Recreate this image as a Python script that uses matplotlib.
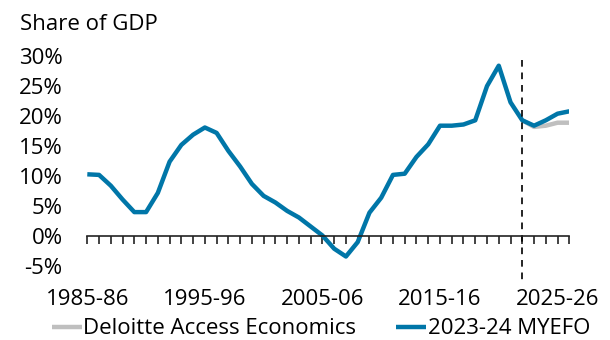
import numpy as np
import matplotlib
matplotlib.use("Agg")
import matplotlib.pyplot as plt
from matplotlib.ticker import MultipleLocator, FuncFormatter

# Financial years 1985-86 .. 2026-27
years = [f"{y}-{str(y + 1)[-2:]}" for y in range(1985, 2027)]

# 2023-24 MYEFO, share of GDP (%)
myefo = [10.2, 10.1, 8.3, 6.0, 3.9, 3.9, 7.1, 12.3, 15.1, 16.8,
         18.0, 17.1, 14.1, 11.5, 8.6, 6.6, 5.5, 4.1, 3.0, 1.5,
         0.0, -2.2, -3.5, -1.1, 3.8, 6.3, 10.1, 10.3, 13.1, 15.2,
         18.3, 18.3, 18.5, 19.2, 24.9, 28.3, 22.2, 19.2, 18.3, 19.2,
         20.3, 20.7]

# Deloitte Access Economics forecast (from 2022-23)
dae_years = ["2022-23", "2023-24", "2024-25", "2025-26", "2026-27"]
dae = [19.2, 18.1, 18.3, 18.8, 18.8]

last_actual = "2022-23"

plt.rcParams['font.family'] = ['Open Sans', 'DejaVu Sans']
plt.rcParams['font.size'] = 16

blue = '#0076A8'
grey = '#BFBFBF'

x = np.arange(len(years))
dae_x = [years.index(y) for y in dae_years]

fig = plt.figure(figsize=(6.1, 3.4), dpi=100)
ax = fig.add_axes([87.3 / 610, 1 - 280.5 / 340, (569.3 - 87.3) / 610, 228 / 340])

ax.plot(dae_x, dae, color=grey, lw=3.2, solid_capstyle='butt', label='Deloitte Access Economics')
ax.plot(x, myefo, color=blue, lw=3.2, solid_capstyle='butt', label='2023-24 MYEFO')

xd = years.index(last_actual)
ax.plot([xd, xd], [29.3, -7.5], color='black', lw=1.2, ls=(0, (4, 3.5)), clip_on=False)

ax.set_xlim(0, len(years) - 1)
ax.set_ylim(-7.5, 30.5)

for s in ['top', 'right', 'left']:
    ax.spines[s].set_visible(False)
ax.spines['bottom'].set_position(('data', 0))
ax.spines['bottom'].set_color('#222222')
ax.spines['bottom'].set_linewidth(1.2)

ax.xaxis.set_major_locator(MultipleLocator(10))
ax.xaxis.set_minor_locator(MultipleLocator(1))
ax.xaxis.set_major_formatter(FuncFormatter(lambda v, p: years[int(v)] if 0 <= int(v) < len(years) else ''))
ax.tick_params(axis='x', which='both', direction='out', length=6, width=1.2, color='#222222')
ax.tick_params(axis='x', which='major', pad=32.5)

ax.set_yticks(np.arange(-5, 31, 5))
ax.yaxis.set_major_formatter(FuncFormatter(lambda v, p: f"{v:.0f}%"))
ax.tick_params(axis='y', length=0, pad=17.7)

fig.text(20 / 610, 1 - 24 / 340, 'Share of GDP', ha='left', va='center', fontsize=16)

fig.legend(loc='center', bbox_to_anchor=(0.526, 1 - 329 / 340), ncol=2, frameon=False,
           handlelength=1.35, handletextpad=0.07, columnspacing=1.8, fontsize=16)

fig.savefig('out.png', dpi=100)
